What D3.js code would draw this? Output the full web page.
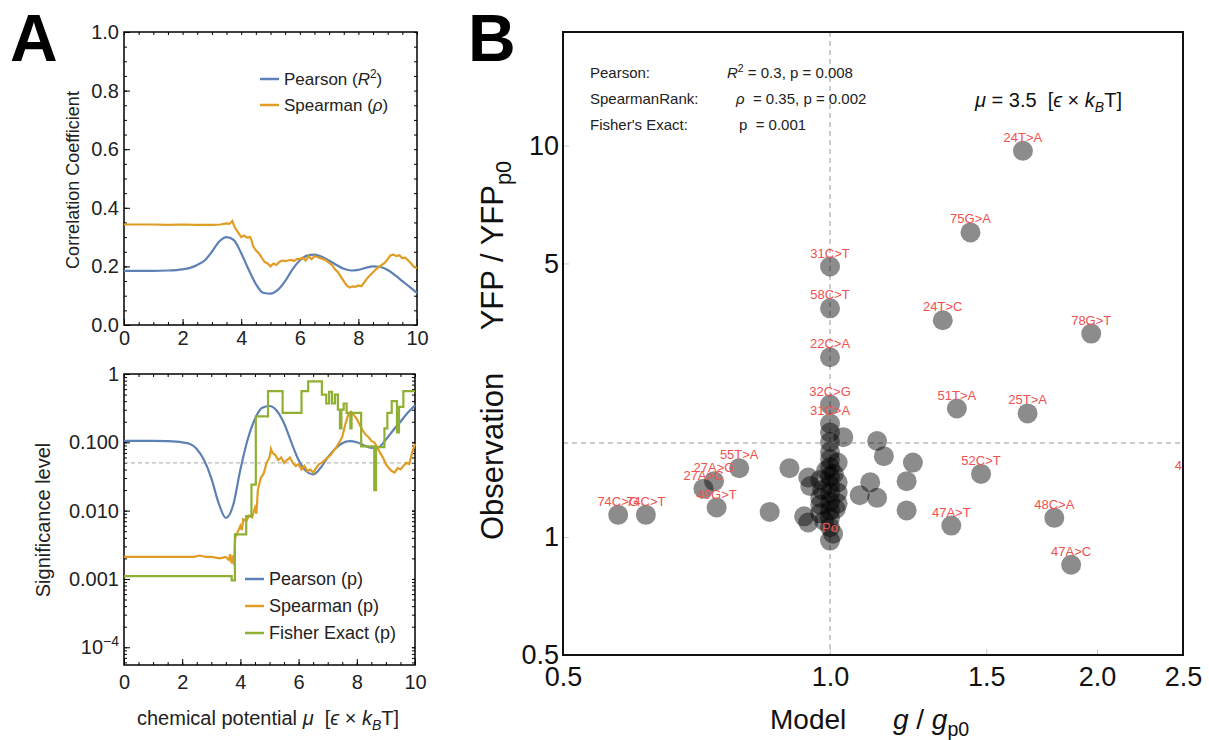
<!DOCTYPE html>
<html>
<head>
<meta charset="utf-8">
<script src="https://cdn.jsdelivr.net/npm/d3@7"></script>
<style>
body { margin: 0; background: #fff; }
svg { font-family: "Liberation Sans", Arial, sans-serif; }
text { white-space: pre; }
</style>
</head>
<body>
<svg id="fig" width="1209" height="740"></svg>
<script>
// ---- panel A, top: correlation coefficients vs chemical potential ----
var pearsonR2 = [[0,0.185],[1,0.185],[1.5,0.186],[2,0.19],[2.25,0.195],[2.5,0.205],[2.75,0.22],[3,0.25],[3.25,0.285],[3.5,0.30],[3.75,0.29],[4,0.245],[4.25,0.19],[4.5,0.14],[4.75,0.11],[5,0.107],[5.25,0.12],[5.5,0.15],[5.75,0.19],[6,0.22],[6.25,0.237],[6.5,0.24],[6.75,0.233],[7,0.22],[7.25,0.205],[7.5,0.192],[7.75,0.186],[8,0.188],[8.25,0.195],[8.5,0.2],[8.75,0.198],[9,0.188],[9.25,0.17],[9.5,0.15],[9.75,0.13],[10,0.11]]
var spearmanRho = [[0,0.343],[0.5,0.343],[1,0.343],[1.5,0.342],[2,0.343],[2.5,0.342],[3,0.342],[3.3,0.343],[3.4,0.345],[3.5,0.347],[3.6,0.345],[3.7,0.355],[3.75,0.34],[3.8,0.33],[3.9,0.315],[4,0.30],[4.1,0.305],[4.2,0.298],[4.3,0.30],[4.35,0.29],[4.4,0.27],[4.5,0.255],[4.6,0.245],[4.7,0.23],[4.8,0.215],[4.9,0.21],[5,0.20],[5.1,0.21],[5.2,0.205],[5.3,0.215],[5.4,0.22],[5.5,0.218],[5.6,0.22],[5.7,0.222],[5.8,0.218],[5.9,0.225],[6,0.225],[6.1,0.23],[6.2,0.22],[6.3,0.235],[6.4,0.225],[6.5,0.235],[6.6,0.232],[6.7,0.228],[6.8,0.225],[6.9,0.22],[7,0.212],[7.1,0.205],[7.2,0.19],[7.3,0.18],[7.4,0.165],[7.5,0.15],[7.6,0.135],[7.7,0.128],[7.8,0.132],[7.9,0.13],[8,0.135],[8.1,0.132],[8.2,0.145],[8.3,0.16],[8.4,0.17],[8.5,0.18],[8.6,0.19],[8.7,0.198],[8.8,0.205],[8.9,0.212],[9,0.225],[9.1,0.238],[9.2,0.24],[9.3,0.235],[9.4,0.238],[9.5,0.228],[9.6,0.23],[9.7,0.22],[9.8,0.21],[9.9,0.198],[10,0.195]]

// ---- panel A, bottom: significance levels ----
var pearsonP = [[0,0.105],[1,0.105],[1.5,0.104],[2,0.1],[2.25,0.095],[2.5,0.08],[2.75,0.055],[3,0.03],[3.25,0.013],[3.5,0.0078],[3.75,0.012],[4,0.04],[4.25,0.11],[4.5,0.22],[4.75,0.32],[5,0.34],[5.25,0.29],[5.5,0.19],[5.75,0.1],[6,0.055],[6.25,0.038],[6.5,0.034],[6.75,0.042],[7,0.06],[7.25,0.08],[7.5,0.097],[7.75,0.104],[8,0.1],[8.25,0.09],[8.5,0.083],[8.75,0.085],[9,0.11],[9.25,0.15],[9.5,0.2],[9.75,0.27],[10,0.35]]
var spearmanP = [[0,0.0021],[1,0.0021],[2,0.0021],[2.4,0.0021],[2.6,0.0022],[2.8,0.0021],[3,0.0021],[3.3,0.002],[3.5,0.0021],[3.6,0.0019],[3.65,0.0023],[3.7,0.0017],[3.75,0.0022],[3.78,0.0016],[3.82,0.004],[3.9,0.0048],[4,0.006],[4.05,0.0052],[4.1,0.0075],[4.2,0.007],[4.3,0.0085],[4.4,0.008],[4.5,0.011],[4.55,0.009],[4.6,0.02],[4.7,0.03],[4.8,0.035],[4.9,0.05],[5,0.06],[5.05,0.08],[5.1,0.07],[5.2,0.065],[5.3,0.055],[5.4,0.06],[5.5,0.05],[5.6,0.055],[5.7,0.06],[5.8,0.05],[5.9,0.045],[6,0.048],[6.1,0.04],[6.2,0.045],[6.3,0.038],[6.4,0.04],[6.5,0.036],[6.6,0.042],[6.7,0.048],[6.8,0.05],[6.9,0.055],[7,0.06],[7.1,0.065],[7.2,0.075],[7.3,0.085],[7.4,0.1],[7.5,0.12],[7.6,0.18],[7.7,0.25],[7.8,0.28],[7.9,0.25],[8,0.22],[8.1,0.18],[8.2,0.15],[8.3,0.13],[8.4,0.12],[8.5,0.105],[8.6,0.1],[8.7,0.085],[8.8,0.07],[8.9,0.06],[9,0.048],[9.1,0.042],[9.2,0.038],[9.3,0.036],[9.4,0.042],[9.5,0.04],[9.6,0.045],[9.7,0.05],[9.8,0.048],[9.9,0.07],[10,0.095]]
// fisher exact is a step function: [start of step, value]
var fisherP = [[0,0.0011],[3.7,0.00095],[3.81,0.0045],[4.2,0.0083],[4.38,0.024],[4.53,0.24],[4.95,0.56],[5.45,0.27],[6.1,0.56],[6.33,0.78],[6.8,0.5],[6.95,0.37],[7.05,0.55],[7.15,0.37],[7.25,0.5],[7.35,0.3],[7.42,0.16],[7.47,0.3],[7.55,0.37],[7.65,0.27],[7.78,0.16],[7.82,0.27],[8.15,0.087],[8.6,0.02],[8.66,0.085],[8.95,0.16],[9.05,0.27],[9.2,0.4],[9.38,0.14],[9.45,0.33],[9.6,0.56],[10,0.56]]

// ---- panel B: model vs observation ----
var mutLabels = ['24T>A','75G>A','31C>T','58C>T','24T>C','78G>T','22C>A','32C>G','31C>A','51T>A','25T>A','52C>T','48C>A','47A>T','47A>C','45G>A','55T>A','27A>G','27A>C','49G>T','74C>G','74C>T','Po']
var mutModel  = [1.65,1.44,1.0,1.0,1.34,1.97,1.0,1.0,1.0,1.39,1.67,1.48,1.79,1.37,1.87,2.58,0.79,0.74,0.72,0.745,0.577,0.62,1.0]
var mutObs    = [9.7,6.0,4.91,3.84,3.58,3.31,2.88,2.18,1.95,2.13,2.07,1.45,1.12,1.07,0.85,1.41,1.50,1.39,1.33,1.19,1.14,1.14,0.98]
var otherModel = [0.90,0.855,0.945,0.935,0.945,1.035,1.13,1.15,1.24,1.22,1.11,1.08,1.13,1.22,1,1,1,1,1,1,1,1,1,1,1,1,1.02,1.02,1.02,1.02,0.975,0.975,0.975,0.975,0.95,1.008,0.99,1.01,0.98,1.015,0.985]
var otherObs   = [1.50,1.16,1.42,1.13,1.09,1.80,1.76,1.61,1.55,1.39,1.38,1.28,1.26,1.17,1.85,1.75,1.65,1.58,1.51,1.43,1.36,1.30,1.23,1.17,1.12,1.06,1.55,1.38,1.30,1.22,1.40,1.26,1.21,1.15,1.35,1.02,1.48,1.45,1.32,1.18,1.10]
var obsThreshold = 1.74

var blue = '#5e81b5', orange = '#e19c24', green = '#8fb032'
var svg = d3.select('#fig')

function rich(t, parts, fs) {
  var shift = 0
  parts.forEach(function(p) {
    var s = p[1] || ''
    var ts = t.append('tspan').text(p[0])
    var want = s.indexOf('sup') >= 0 ? -0.4 * fs : (s.indexOf('sub') >= 0 ? 0.25 * fs : 0)
    if (want - shift !== 0) ts.attr('dy', want - shift)
    shift = want
    if (want) ts.style('font-size', (0.7 * fs) + 'px')
    if (s.charAt(0) === 'i') ts.style('font-style', 'italic')
  })
}

function styleTicks(g, fs, col) {
  g.select('.domain').remove()
  g.selectAll('text').style('font-size', fs + 'px').attr('fill', col)
  g.selectAll('line').attr('stroke', '#000')
}

// big panel letters
svg.append('text').attr('x', 10).attr('y', 61).text('A').style('font-size', '66px').style('font-weight', 'bold')
svg.append('text').attr('x', 468).attr('y', 61).text('B').style('font-size', '66px').style('font-weight', 'bold')

// ===== A top =====
var xA = d3.scaleLinear().domain([0, 10]).range([124, 417])
var yA = d3.scaleLinear().domain([0, 1]).range([325, 32])
var gA = svg.append('g')

gA.append('g').attr('transform', 'translate(0,325)')
  .call(d3.axisBottom(xA).tickValues(d3.range(0, 10.01, 0.5)).tickSize(-3).tickFormat(''))
  .call(styleTicks, 20, '#222')
gA.append('g').attr('transform', 'translate(0,325)')
  .call(d3.axisBottom(xA).ticks(5).tickSize(-6).tickPadding(6))
  .call(styleTicks, 20, '#222')
gA.append('g').attr('transform', 'translate(0,32)')
  .call(d3.axisTop(xA).tickValues(d3.range(0, 10.01, 0.5)).tickSize(-3).tickFormat(''))
  .call(styleTicks, 20, '#222')
gA.append('g').attr('transform', 'translate(124,0)')
  .call(d3.axisLeft(yA).tickValues(d3.range(0, 1.001, 0.05)).tickSize(-3).tickFormat(''))
  .call(styleTicks, 20, '#222')
gA.append('g').attr('transform', 'translate(124,0)')
  .call(d3.axisLeft(yA).tickValues([0, 0.2, 0.4, 0.6, 0.8, 1]).tickFormat(d3.format('.1f')).tickSize(-6).tickPadding(5))
  .call(styleTicks, 20, '#222')
gA.append('g').attr('transform', 'translate(417,0)')
  .call(d3.axisRight(yA).tickValues(d3.range(0, 1.001, 0.05)).tickSize(-3).tickFormat(''))
  .call(styleTicks, 20, '#222')
gA.append('rect').attr('x', 124).attr('y', 32).attr('width', 293).attr('height', 293)
  .attr('fill', 'none').attr('stroke', '#000').attr('stroke-width', 1.5)

var lineA = d3.line().x(function(d) { return xA(d[0]) }).y(function(d) { return yA(d[1]) })
gA.append('path').datum(pearsonR2).attr('d', lineA.curve(d3.curveMonotoneX))
  .attr('fill', 'none').attr('stroke', blue).attr('stroke-width', 2.2)
gA.append('path').datum(spearmanRho).attr('d', lineA.curve(d3.curveLinear))
  .attr('fill', 'none').attr('stroke', orange).attr('stroke-width', 2.2)

var legA = [['Pearson (', ''], ['R', 'i'], ['2', 'sup'], [')', '']]
var legA2 = [['Spearman (', ''], ['ρ', 'i'], [')', '']]
;[[legA, blue, 79], [legA2, orange, 105]].forEach(function(l) {
  gA.append('line').attr('x1', 260).attr('x2', 279).attr('y1', l[2]).attr('y2', l[2]).attr('stroke', l[1]).attr('stroke-width', 2.5)
  var t = gA.append('text').attr('x', 284).attr('y', l[2] + 6).style('font-size', '17px').attr('fill', '#222')
  rich(t, l[0], 17)
})
svg.append('text').attr('transform', 'translate(79,180) rotate(-90)').attr('text-anchor', 'middle')
  .style('font-size', '18px').attr('fill', '#222').text('Correlation Coefficient')

// ===== A bottom =====
var xA2 = d3.scaleLinear().domain([0, 10]).range([124, 415])
var yA2 = d3.scaleLog().domain([5.5e-5, 1]).range([665, 374])
var gB = svg.append('g')
var minorLog = []
;[1e-4, 1e-3, 1e-2, 1e-1].forEach(function(d) { for (var k = 1; k < 10; k++) minorLog.push(d * k) })
minorLog.push(6e-5, 7e-5, 8e-5, 9e-5)

gB.append('g').attr('transform', 'translate(0,665)')
  .call(d3.axisBottom(xA2).tickValues(d3.range(0, 10.01, 0.5)).tickSize(-3).tickFormat(''))
  .call(styleTicks, 20, '#222')
gB.append('g').attr('transform', 'translate(0,665)')
  .call(d3.axisBottom(xA2).ticks(5).tickSize(-6).tickPadding(10))
  .call(styleTicks, 20, '#222')
gB.append('g').attr('transform', 'translate(0,374)')
  .call(d3.axisTop(xA2).tickValues(d3.range(0, 10.01, 0.5)).tickSize(-3).tickFormat(''))
  .call(styleTicks, 20, '#222')
gB.append('g').attr('transform', 'translate(124,0)')
  .call(d3.axisLeft(yA2).tickValues(minorLog).tickSize(-3).tickFormat(''))
  .call(styleTicks, 20, '#222')
var pTicks = [1e-4, 1e-3, 1e-2, 1e-1, 1]
var pLabels = ['', '0.001', '0.010', '0.100', '1']
var yAxB = gB.append('g').attr('transform', 'translate(124,0)')
  .call(d3.axisLeft(yA2).tickValues(pTicks).tickSize(-6).tickPadding(5)
    .tickFormat(function(d, i) { return pLabels[i] }))
  .call(styleTicks, 20, '#222')
yAxB.selectAll('.tick text').filter(function(d) { return d === 1e-4 })
  .each(function() { rich(d3.select(this), [['10', ''], ['−4', 'sup']], 20) })
gB.append('g').attr('transform', 'translate(415,0)')
  .call(d3.axisRight(yA2).tickValues(minorLog.concat(pTicks)).tickSize(-3).tickFormat(''))
  .call(styleTicks, 20, '#222')
gB.append('line').attr('x1', 124).attr('x2', 415).attr('y1', yA2(0.05)).attr('y2', yA2(0.05))
  .attr('stroke', '#bbb').attr('stroke-dasharray', '4,3').attr('stroke-width', 1.2)
gB.append('rect').attr('x', 124).attr('y', 374).attr('width', 291).attr('height', 291)
  .attr('fill', 'none').attr('stroke', '#000').attr('stroke-width', 1.5)

var lineB = d3.line().x(function(d) { return xA2(d[0]) }).y(function(d) { return yA2(d[1]) })
gB.append('path').datum(pearsonP).attr('d', lineB.curve(d3.curveMonotoneX))
  .attr('fill', 'none').attr('stroke', blue).attr('stroke-width', 2.2)
gB.append('path').datum(spearmanP).attr('d', lineB.curve(d3.curveLinear))
  .attr('fill', 'none').attr('stroke', orange).attr('stroke-width', 2.2)
gB.append('path').datum(fisherP).attr('d', lineB.curve(d3.curveStepAfter))
  .attr('fill', 'none').attr('stroke', green).attr('stroke-width', 2.2)

;[['Pearson (p)', blue, 579], ['Spearman (p)', orange, 606], ['Fisher Exact (p)', green, 633]].forEach(function(l) {
  gB.append('line').attr('x1', 245).attr('x2', 264).attr('y1', l[2]).attr('y2', l[2]).attr('stroke', l[1]).attr('stroke-width', 2.5)
  gB.append('text').attr('x', 269).attr('y', l[2] + 6).style('font-size', '18px').attr('fill', '#222').text(l[0])
})
svg.append('text').attr('transform', 'translate(50,520) rotate(-90)').attr('text-anchor', 'middle')
  .style('font-size', '20px').attr('fill', '#222').text('Significance level')
var xt = svg.append('text').attr('x', 268).attr('y', 725).attr('text-anchor', 'middle')
  .style('font-size', '20px').attr('fill', '#222')
rich(xt, [['chemical potential ', ''], ['μ', 'i'], ['  [', ''], ['ϵ', 'i'], [' × ', ''], ['k', 'i'], ['B', 'isub'], ['T]', '']], 20)

// ===== B scatter =====
var xS = d3.scaleLog().domain([0.5, 2.5]).range([563, 1183])
var yS = d3.scaleLog().domain([0.5, 19.5]).range([655, 32])
var gS = svg.append('g')
gS.append('clipPath').attr('id', 'clipS').append('rect')
  .attr('x', 563).attr('y', 32).attr('width', 620).attr('height', 623)

var xAxS = gS.append('g').attr('transform', 'translate(0,655)')
  .call(d3.axisBottom(xS).tickValues([0.5, 1, 1.5, 2, 2.5]).tickFormat(d3.format('.1f')).tickSize(-6).tickPadding(12))
  .call(styleTicks, 27, '#111')
xAxS.selectAll('line').attr('stroke', '#ccc')
var yAxS = gS.append('g').attr('transform', 'translate(563,0)')
  .call(d3.axisLeft(yS).tickValues([0.5, 1, 5, 10]).tickFormat(function(d) { return String(d) }).tickSize(-6).tickPadding(4))
  .call(styleTicks, 27, '#111')
yAxS.selectAll('line').attr('stroke', '#ccc')

gS.append('line').attr('x1', xS(1)).attr('x2', xS(1)).attr('y1', 32).attr('y2', 655)
  .attr('stroke', '#bbb').attr('stroke-dasharray', '5,4').attr('stroke-width', 1.5)
gS.append('line').attr('x1', 563).attr('x2', 1183).attr('y1', yS(obsThreshold)).attr('y2', yS(obsThreshold))
  .attr('stroke', '#bbb').attr('stroke-dasharray', '5,4').attr('stroke-width', 1.5)

var dots = gS.append('g').attr('clip-path', 'url(#clipS)')
dots.selectAll('.other').data(otherModel).enter().append('circle')
  .attr('cx', function(d) { return xS(d) })
  .attr('cy', function(d, i) { return yS(otherObs[i]) })
  .attr('r', 10).attr('fill', '#000').attr('fill-opacity', 0.45)
dots.selectAll('.mut').data(mutModel).enter().append('circle')
  .attr('cx', function(d) { return xS(d) })
  .attr('cy', function(d, i) { return yS(mutObs[i]) })
  .attr('r', 10).attr('fill', '#000').attr('fill-opacity', 0.45)
dots.selectAll('.lab').data(mutLabels).enter().append('text')
  .attr('x', function(d, i) { return xS(mutModel[i]) })
  .attr('y', function(d, i) { return yS(mutObs[i]) - 9 })
  .attr('text-anchor', 'middle').style('font-size', '13px').attr('fill', '#f05050')
  .text(function(d) { return d })

gS.append('rect').attr('x', 563).attr('y', 32).attr('width', 620).attr('height', 623)
  .attr('fill', 'none').attr('stroke', '#111').attr('stroke-width', 2)

// stats box text
var statRows = [
  ['Pearson:', [['R', 'i'], ['2', 'sup'], [' = 0.3, p = 0.008', '']], 73, 727],
  ['SpearmanRank:', [['ρ', 'i'], ['  = 0.35, p = 0.002', '']], 99, 736],
  ['Fisher\'s Exact:', [['p  = 0.001', '']], 125, 739]
]
statRows.forEach(function(r) {
  gS.append('text').attr('x', 590).attr('y', r[2] + 5).style('font-size', '15px').attr('fill', '#222').text(r[0])
  var t = gS.append('text').attr('x', r[3]).attr('y', r[2] + 5).style('font-size', '15px').attr('fill', '#222')
  rich(t, r[1], 15)
})
var mu = gS.append('text').attr('x', 975).attr('y', 107).style('font-size', '20px').attr('fill', '#111')
rich(mu, [['μ', 'i'], [' = 3.5  [', ''], ['ϵ', 'i'], [' × ', ''], ['k', 'i'], ['B', 'isub'], ['T]', '']], 20)

var ytS = svg.append('text').attr('transform', 'translate(503,540) rotate(-90)').attr('text-anchor', 'start')
  .style('font-size', '31px').attr('fill', '#111')
rich(ytS, [['Observation     YFP / YFP', ''], ['p0', 'sub']], 31)
var xtS = svg.append('text').attr('x', 770).attr('y', 729).attr('text-anchor', 'start')
  .style('font-size', '28px').attr('fill', '#111')
rich(xtS, [['Model      ', ''], ['g', 'i'], [' / ', ''], ['g', 'i'], ['p0', 'sub']], 28)
</script>
</body>
</html>
